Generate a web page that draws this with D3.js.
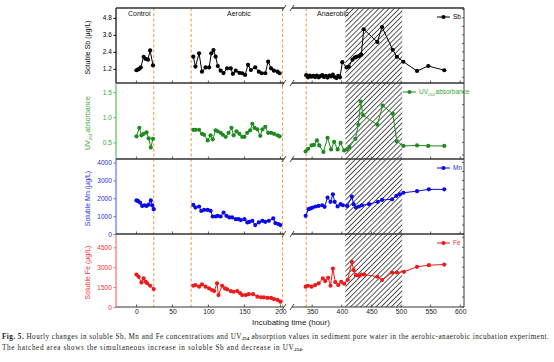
<!DOCTYPE html>
<html><head><meta charset="utf-8">
<script src="https://cdn.jsdelivr.net/npm/d3@7"></script>
<style>body{margin:0;background:#fff}svg{display:block}</style>
</head><body><svg id="c" width="554" height="362"></svg>
<script>
// ---------- data ----------
const sbTime = [0,2,4,6,10,13,16,19,23,
 79,82,87,91,96,101,104,107,110,113,117,121,126,131,134,138,143,147,151,155,159,165,170,174,179,183,187,191,196,199,
 340,343,346,349,352,355,358,361,364,367,370,373,376,379,382,385,388,391,394,397,401,408,412,418,422,425,429,433,437,460,468,486,493,504,527,546,573];
const sbValue = [1.1,1.15,1.2,1.3,2.05,1.9,1.85,2.5,1.45,
 2.06,1.36,2.3,1.0,1.3,1.3,2.3,2.53,2.06,1.4,1.07,0.9,1.24,1.24,0.85,1.07,0.92,0.89,0.77,1.48,1.12,1.31,1.0,0.89,0.89,1.71,1.24,1.07,1.0,0.89,
 0.75,0.6,0.72,0.65,0.7,0.62,0.72,0.6,0.68,0.75,0.62,0.7,0.58,0.72,0.66,0.8,0.62,0.55,0.7,0.6,1.67,1.3,1.35,1.85,2.0,2.05,2.1,2.2,4.0,3.1,4.15,2.55,2.05,1.7,1.05,1.4,1.1];

const uvTime = [0,4,7,10,14,17,20,23,
 79,82,87,91,94,99,103,106,110,113,117,120,124,128,132,135,139,143,147,150,154,158,161,164,168,172,175,179,183,187,191,196,199,
 339,343,349,353,358,362,369,376,382,387,393,398,404,409,413,423,428,432,436,460,469,486,493,504,527,546,573];
const uvValue = [0.62,0.79,0.64,0.67,0.70,0.58,0.40,0.57,
 0.75,0.75,0.75,0.67,0.65,0.54,0.64,0.56,0.74,0.72,0.69,0.65,0.61,0.69,0.79,0.64,0.72,0.67,0.61,0.61,0.69,0.74,0.87,0.79,0.76,0.63,0.76,0.81,0.69,0.69,0.67,0.64,0.62,
 0.32,0.37,0.44,0.45,0.54,0.44,0.31,0.59,0.36,0.51,0.36,0.49,0.34,0.36,0.41,0.57,0.85,1.31,1.04,0.85,1.23,1.07,0.52,0.43,0.44,0.43,0.43];

const mnTime = [0,2,5,8,11,14,17,20,22,24,
 79,82,87,90,94,99,103,106,110,113,117,121,125,129,133,138,142,145,150,154,157,161,165,170,175,179,184,190,193,197,200,
 339,344,347,351,356,361,367,371,376,381,385,388,393,398,402,409,417,420,424,429,434,446,461,468,485,492,498,504,527,547,573];
const mnValue = [1880,1850,1760,1570,1610,1570,1650,1880,1600,1390,
 1630,1480,1540,1295,1350,1350,1300,980,980,1020,980,1200,1020,930,930,830,830,780,830,650,680,740,500,650,740,680,740,870,610,560,500,
 1020,1390,1430,1480,1540,1570,1610,1520,2040,1800,2220,1800,1540,1670,1610,1570,2090,1670,1480,1540,1610,1670,1800,1910,1940,2130,2220,2310,2400,2500,2500];

const feTime = [0,3,7,10,13,15,19,24,
 79,82,87,91,96,101,105,108,112,114,119,123,126,131,135,140,144,147,152,156,162,168,173,177,182,187,191,196,200,
 339,343,349,355,361,368,372,377,381,385,389,394,399,404,410,417,420,424,429,433,438,460,468,485,493,505,527,547,573];
const feValue = [2450,2280,1850,2150,1900,1780,1600,1350,
 1600,1650,1530,1700,1530,1400,1280,1200,1780,900,1600,1400,1330,1200,1150,1200,1050,900,900,970,970,780,730,730,680,680,600,530,400,
 1530,1600,1530,1650,1780,2150,1950,2200,1600,2900,1880,1650,1900,1750,2050,3400,2780,2400,2350,2450,2450,2280,2030,2600,2600,2650,3030,3150,3200];

const xTicksLeft = [0,50,100,150,200];
const xTicksRight = [350,400,450,500,550,600];
const phaseLines = [24,76,203,340];
const hatchRange = [406,502];
const phaseNames = ["Control","Aerobic","Anaerobic"];
const sbTicks = [1.2,2.4,3.6,4.8];
const uvTicks = [0.5,1.0,1.5];
const mnTicks = [0,1000,2000,3000,4000];
const feTicks = [0,1500,3000,4500];

// ---------- layout ----------
const svg = d3.select("#c");
const F = "'Liberation Sans', Arial, sans-serif";
const L0 = 116, L1 = 284, R0 = 292, R1 = 464;
const xL = d3.scaleLinear().domain([-27,205]).range([117,284]);
const xR = d3.scaleLinear().domain([316,608]).range([292,465]);
const X = h => h < 260 ? xL(h) : xR(h);
const TOP = 8, BOT = 307;

const panels = [
 {t:sbTime, v:sbValue, ticks:sbTicks, dom:[0.2,5.5], y0:8, y1:83, col:"#000", axis:"#000", lab:"#000", fmt:d3.format(".1f"), name:"Sb", title:"Soluble Sb (μg/L)"},
 {t:uvTime, v:uvValue, ticks:uvTicks, dom:[0.17,1.68], y0:83, y1:159, col:"#1f8a1f", axis:"#5cbf5c", lab:"#3aa63a", fmt:d3.format(".1f"), name:"UV", title:null},
 {t:mnTime, v:mnValue, ticks:mnTicks, dom:[0,4200], y0:159, y1:234, col:"#0a0ae6", axis:"#6a6aff", lab:"#2a2af0", fmt:d3.format("d"), name:"Mn", title:"Soluble Mn (μg/L)"},
 {t:feTime, v:feValue, ticks:feTicks, dom:[0,5500], y0:234, y1:307, col:"#ee1a1a", axis:"#ff7070", lab:"#f03030", fmt:d3.format("d"), name:"Fe", title:"Soluble Fe (μg/L)"}
];

// hatch pattern
const defs = svg.append("defs");
const pat = defs.append("pattern").attr("id","hatch").attr("patternUnits","userSpaceOnUse")
 .attr("width",3.6).attr("height",3.6).attr("patternTransform","rotate(45)");
pat.append("rect").attr("width",3.6).attr("height",3.6).attr("fill","#fff");
pat.append("line").attr("x1",0).attr("y1",0).attr("x2",0).attr("y2",3.6).attr("stroke","#222").attr("stroke-width",1.5);

svg.append("rect").attr("x",X(hatchRange[0])).attr("y",TOP)
 .attr("width",X(hatchRange[1])-X(hatchRange[0])).attr("height",BOT-TOP).attr("fill","url(#hatch)");

// phase dashed lines
svg.selectAll(".ph").data(phaseLines).join("line")
 .attr("x1",d=>X(d)).attr("x2",d=>X(d)).attr("y1",TOP).attr("y2",BOT)
 .attr("stroke","#f0a050").attr("stroke-width",1.1).attr("stroke-dasharray","3,2.2");

// phase names
const phX = [128, 227, 317];
phaseNames.forEach((n,i)=>svg.append("text").attr("x",phX[i]).attr("y",15.5).text(n)
 .attr("font-family",F).attr("font-size",7).attr("fill","#111"));

panels.forEach((p,pi)=>{
 const y = d3.scaleLinear().domain(p.dom).range([p.y1,p.y0]);
 svg.append("line").attr("x1",L0).attr("x2",L0).attr("y1",p.y0).attr("y2",p.y1).attr("stroke",p.axis).attr("stroke-width",1.2);
 svg.append("line").attr("x1",R1).attr("x2",R1).attr("y1",p.y0).attr("y2",p.y1).attr("stroke","#222").attr("stroke-width",0.9);
 const step = p.ticks[1]-p.ticks[0];
 const minor = [];
 for (let v = p.ticks[0]-step/2; v <= p.dom[1]; v += step/2) if (v>=p.dom[0]) minor.push(v);
 minor.forEach(v=>{
   svg.append("line").attr("x1",R1).attr("x2",R1-2).attr("y1",y(v)).attr("y2",y(v)).attr("stroke","#222").attr("stroke-width",0.7);
 });
 const ax = d3.axisLeft(y).tickValues(p.ticks).tickSize(2.5).tickFormat(p.fmt);
 const g = svg.append("g").attr("transform",`translate(${L0},0)`).call(ax);
 g.select(".domain").remove();
 g.selectAll("line").attr("stroke",p.axis);
 g.selectAll("text").attr("font-family",F).attr("font-size",6.5).attr("fill",p.lab).attr("dx","0.2em");
 const cy = (p.y0+p.y1)/2;
 const tt = svg.append("text").attr("transform",`translate(90,${cy+2}) rotate(-90)`).attr("text-anchor","middle")
   .attr("font-family",F).attr("font-size",7).attr("fill",p.lab);
 if (p.title) tt.text(p.title);
 else { tt.append("tspan").text("UV");
   tt.append("tspan").text("254").attr("font-size",4).attr("dy",2);
   tt.append("tspan").text("absorbance").attr("dy",-2).attr("dx",1); }
 const pts = p.t.map((t,i)=>({t, v:p.v[i], ph: t<50?0:(t<270?1:2)}));
 const line = d3.line().x(d=>X(d.t)).y(d=>y(d.v));
 [0,1,2].forEach(ph=>{
   svg.append("path").datum(pts.filter(d=>d.ph===ph)).attr("d",line)
     .attr("fill","none").attr("stroke",p.col).attr("stroke-width",1);
 });
 svg.selectAll(null).data(pts).join("circle").attr("cx",d=>X(d.t)).attr("cy",d=>y(d.v)).attr("r",2.1).attr("fill",p.col);
 const ly = p.y0+9;
 const lx = p.name==="UV" ? 403 : 437;
 svg.append("line").attr("x1",lx).attr("x2",lx+13).attr("y1",ly).attr("y2",ly).attr("stroke",p.col).attr("stroke-width",1);
 svg.append("circle").attr("cx",lx+6.5).attr("cy",ly).attr("r",2.1).attr("fill",p.col);
 const lt = svg.append("text").attr("x",lx+16).attr("y",ly+2.3).attr("font-family",F).attr("font-size",6.5).attr("fill",p.col==="#000"?"#000":p.lab);
 if (p.name==="UV") { lt.append("tspan").text("UV"); lt.append("tspan").text("254").attr("font-size",4).attr("dy",1.5);
   lt.append("tspan").text("absorbance").attr("dy",-1.5).attr("dx",0.8); }
 else lt.text(p.name);
});

const bounds = [8,83,159,234,307];
bounds.forEach((b,i)=>{
 const w = i===4?1:1.4, c = "#333";
 svg.append("line").attr("x1",L0).attr("x2",L1).attr("y1",b).attr("y2",b).attr("stroke",c).attr("stroke-width",w);
 svg.append("line").attr("x1",R0).attr("x2",R1).attr("y1",b).attr("y2",b).attr("stroke",c).attr("stroke-width",w);
 [L1,R0].forEach(xb=>svg.append("line").attr("x1",xb-2).attr("x2",xb+2).attr("y1",b+3).attr("y2",b-3).attr("stroke",c).attr("stroke-width",0.9));
 if (i>0) {
  xTicksLeft.forEach(t=>svg.append("line").attr("x1",xL(t)).attr("x2",xL(t)).attr("y1",b).attr("y2",b-2.5).attr("stroke",c).attr("stroke-width",0.8));
  xTicksRight.forEach(t=>svg.append("line").attr("x1",xR(t)).attr("x2",xR(t)).attr("y1",b).attr("y2",b-2.5).attr("stroke",c).attr("stroke-width",0.8));
 }
});

const gl = svg.append("g").attr("class","xb").attr("transform",`translate(0,${BOT})`).call(d3.axisBottom(xL).tickValues(xTicksLeft).tickSize(0).tickPadding(2.5));
const gr = svg.append("g").attr("class","xb").attr("transform",`translate(0,${BOT})`).call(d3.axisBottom(xR).tickValues(xTicksRight).tickSize(0).tickPadding(2.5));
svg.selectAll(".xb .domain").remove();
svg.selectAll(".xb text").attr("font-family",F).attr("font-size",6.8).attr("fill","#222");

svg.append("text").attr("x",291).attr("y",325).attr("text-anchor","middle").attr("font-family",F).attr("font-size",8).attr("fill","#222").text("Incubating time (hour)");

const SF = "'Liberation Serif', 'Times New Roman', serif";
const c1 = svg.append("text").attr("x",2).attr("y",338.5).attr("font-family",SF).attr("font-size",7.2).attr("letter-spacing",0.46).attr("fill","#222");
c1.append("tspan").text("Fig. 5. ").attr("font-weight","bold");
c1.append("tspan").text("Hourly changes in soluble Sb, Mn and Fe concentrations and UV");
c1.append("tspan").text("254").attr("font-size",4.8).attr("dy",1.5).attr("font-weight","bold").attr("letter-spacing",0);
c1.append("tspan").text(" absorption values in sediment pore water in the aerobic-anaerobic incubation experiment.").attr("dy",-1.5);
const c2 = svg.append("text").attr("x",2).attr("y",349.5).attr("font-family",SF).attr("font-size",7.2).attr("letter-spacing",0.62).attr("fill","#222");
c2.append("tspan").text("The hatched area shows the simultaneous increase in soluble Sb and decrease in UV");
c2.append("tspan").text("254").attr("font-size",4.8).attr("dy",1.5).attr("font-weight","bold").attr("letter-spacing",0);
c2.append("tspan").text(".").attr("dy",-1.5);
</script></body></html>
